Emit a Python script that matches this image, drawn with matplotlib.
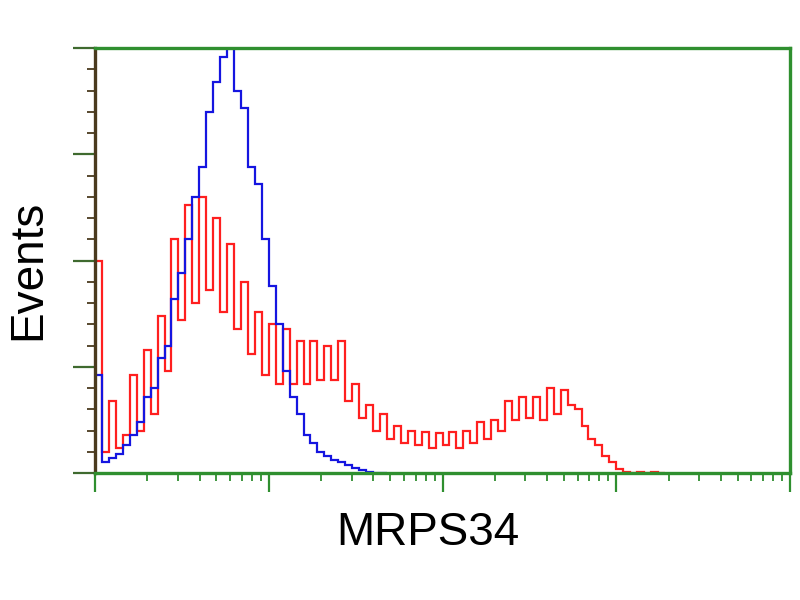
import matplotlib.pyplot as plt
import numpy as np
from matplotlib.ticker import FixedLocator, LogLocator, NullFormatter

# histogram bins: 0.04 decade wide on a 4-decade log axis
bin_width = 0.04
n_bins = 100

# counts as % of the axis height
red_counts = [50, 5, 17, 6, 9, 23, 10, 29, 14, 37,
              24, 55, 36, 63, 40, 65, 43, 60, 38, 54,
              34, 45, 28, 38, 23, 35, 21, 34, 21, 31,
              21, 31, 22, 30, 22, 31, 17, 21, 13, 16,
              10, 14, 8, 11, 7, 10, 6.6, 9.6, 6, 9.4,
              6.6, 9.6, 6, 10, 7, 12, 8, 12.5, 10, 17,
              12.5, 18, 13, 18, 12.5, 20, 14, 19.5, 16, 15,
              11, 8, 6.6, 4, 2.6, 1, 0.3, 0, 0.2, 0,
              0.2, 0]
blue_counts = [23, 2.5, 3.5, 4.5, 6.5, 9, 12, 18, 20, 27,
               30, 41, 47, 55, 65, 72, 85, 92, 98, 105,
               90, 86, 72, 68, 55, 44, 35, 24, 18, 14,
               9, 7, 5, 4, 3, 2.5, 2, 1.2, 0.6, 0.3,
               0.1, 0]

green = "#2f8f2f"
dark = "#4a3a1e"

fig = plt.figure(figsize=(8, 6), dpi=100)
ax = fig.add_axes([95/800, 127/600, 695/800, 425/600])

def edges_for(counts):
    return 10 ** (bin_width * np.arange(len(counts) + 1))

ax.stairs(red_counts, edges_for(red_counts), color="#ff1f1f", lw=1.6)
ax.stairs(blue_counts, edges_for(blue_counts), color="#1515e0", lw=1.6)

ax.set_xscale("log")
ax.set_xlim(1, 10 ** (bin_width * n_bins))
ax.set_ylim(0, 100)

for side in ["top", "right", "bottom"]:
    ax.spines[side].set_color(green)
    ax.spines[side].set_linewidth(2.4)
ax.spines["left"].set_color(dark)
ax.spines["left"].set_linewidth(2.4)

ax.xaxis.set_major_locator(LogLocator(base=10, numticks=10))
ax.xaxis.set_minor_locator(LogLocator(base=10, subs=np.arange(2, 10), numticks=50))
ax.xaxis.set_major_formatter(NullFormatter())
ax.xaxis.set_minor_formatter(NullFormatter())
ax.yaxis.set_major_locator(FixedLocator([0, 25, 50, 75, 100]))
ax.yaxis.set_minor_locator(FixedLocator(np.arange(0, 101, 5)))
ax.yaxis.set_major_formatter(NullFormatter())

ax.tick_params(axis="x", which="major", length=14, width=1.6, color=green, direction="out")
ax.tick_params(axis="x", which="minor", length=6, width=1.3, color=green, direction="out")
ax.tick_params(axis="y", which="major", length=16, width=1.6, color="#3f6a2f", direction="out")
ax.tick_params(axis="y", which="minor", length=6, width=1.3, color=dark, direction="out")

fig.text(28/800, 1 - 270/600, "Events", rotation=90, ha="center", va="center",
         fontsize=33, family="Liberation Sans")
fig.text(428/800, 1 - 533/600, "MRPS34", ha="center", va="center",
         fontsize=33, family="Liberation Sans")

fig.savefig("out.png", dpi=100)
